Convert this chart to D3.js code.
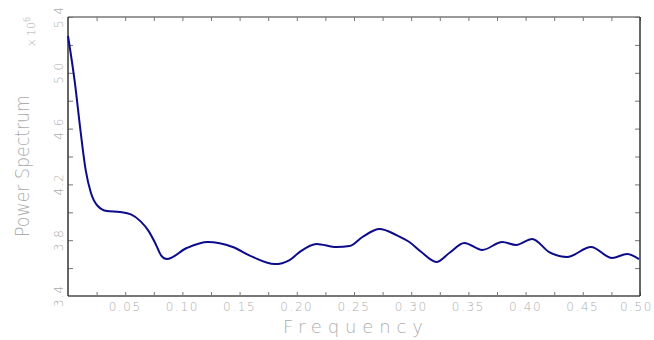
<!DOCTYPE html>
<html>
<head>
<meta charset="utf-8">
<script src="https://cdn.jsdelivr.net/npm/d3@7"></script>
<style>
  body { margin: 0; background: #fff; }
  svg text { font-family: "DejaVu Sans", sans-serif; font-weight: 200; fill: #adadad; }
</style>
</head>
<body>
<div id="chart"></div>
<script>
// values (frequency, power / 1e6)
const freq = [0.0, 0.006, 0.011, 0.0155, 0.020, 0.026, 0.034, 0.0454, 0.055, 0.0635, 0.0705,
  0.0765, 0.0815, 0.0864, 0.1038, 0.1222, 0.144, 0.1614, 0.1806, 0.1937, 0.2024, 0.2173,
  0.2347, 0.2461, 0.2574, 0.2723, 0.2871, 0.2984, 0.3089, 0.322, 0.3333, 0.3464,
  0.3621, 0.3796, 0.3918, 0.4058, 0.4206, 0.4363, 0.4572, 0.4756, 0.4887, 0.4991];
const power = [5.264, 4.93, 4.58, 4.30, 4.14, 4.045, 4.009, 4.002, 3.985, 3.935, 3.865,
  3.775, 3.69, 3.665, 3.744, 3.787, 3.751, 3.680, 3.629, 3.658, 3.715, 3.773,
  3.751, 3.758, 3.823, 3.880, 3.837, 3.787, 3.715, 3.644, 3.708, 3.780,
  3.730, 3.787, 3.766, 3.809, 3.715, 3.680, 3.751, 3.672, 3.701, 3.665];

const xMajor = [0.05, 0.10, 0.15, 0.20, 0.25, 0.30, 0.35, 0.40, 0.45, 0.50];
const xMinor = [0.025, 0.075, 0.125, 0.175, 0.225, 0.275, 0.325, 0.375, 0.425, 0.475];
const yMajor = [3.4, 3.8, 4.2, 4.6, 5.0, 5.4];
const yMinor = [3.6, 4.0, 4.4, 4.8, 5.2];

const width = 654, height = 340;
const margin = { top: 17, right: 14, bottom: 44, left: 68 };
const iw = width - margin.left - margin.right,
  ih = height - margin.top - margin.bottom;

const svg = d3.select("#chart").append("svg")
  .attr("width", width)
  .attr("height", height);

const x = d3.scaleLinear().domain([0, 0.5]).range([0, iw]);
const y = d3.scaleLinear().domain([3.4, 5.4]).range([ih, 0]);

const g = svg.append("g").attr("transform", `translate(${margin.left},${margin.top})`);

// inward ticks on all four sides
function styleAxis(sel) {
  sel.select(".domain").remove();
  sel.selectAll(".tick line").attr("stroke", "#777");
}
g.append("g").attr("transform", `translate(0,${ih})`)
  .call(d3.axisBottom(x).tickValues(xMajor.concat(xMinor)).tickSize(-4).tickFormat(""))
  .call(styleAxis);
g.append("g")
  .call(d3.axisTop(x).tickValues(xMajor.concat(xMinor)).tickSize(-4).tickFormat(""))
  .call(styleAxis);
g.append("g")
  .call(d3.axisLeft(y).tickValues(yMajor.concat(yMinor)).tickSize(-5).tickFormat(""))
  .call(styleAxis);
g.append("g").attr("transform", `translate(${iw},0)`)
  .call(d3.axisRight(y).tickValues(yMajor.concat(yMinor)).tickSize(-5).tickFormat(""))
  .call(styleAxis);

// frame
g.append("line").attr("x1", 0).attr("x2", iw).attr("y1", 0).attr("y2", 0).attr("stroke", "#777").attr("stroke-width", 1.5);
g.append("line").attr("x1", 0).attr("x2", iw).attr("y1", ih).attr("y2", ih).attr("stroke", "#777").attr("stroke-width", 2);
g.append("line").attr("x1", 0).attr("x2", 0).attr("y1", 0).attr("y2", ih).attr("stroke", "#333").attr("stroke-width", 1.5);
g.append("line").attr("x1", iw).attr("x2", iw).attr("y1", 0).attr("y2", ih).attr("stroke", "#333").attr("stroke-width", 1.5);

// tick labels
g.selectAll(".xlab").data(xMajor).join("text")
  .attr("x", d => d === 0.5 ? width - margin.left - 1 : x(d))
  .attr("y", ih + 15)
  .attr("text-anchor", d => d === 0.5 ? "end" : "middle")
  .style("font-size", "12px")
  .style("letter-spacing", "1.6px")
  .text(d => d.toFixed(2));

g.selectAll(".ylab").data(yMajor).join("text")
  .attr("transform", d => `translate(-5,${y(d)}) rotate(-90)`)
  .attr("text-anchor", "middle")
  .style("font-size", "12px")
  .style("letter-spacing", "1px")
  .text(d => d.toFixed(1));

// multiplier
const mult = svg.append("text")
  .attr("transform", "translate(35,46) rotate(-90)")
  .style("font-size", "11px");
mult.append("tspan").text("x 10");
mult.append("tspan").attr("dy", -5).style("font-size", "8px").text("6");

// axis titles
svg.append("text")
  .attr("x", 283)
  .attr("y", 333)
  .attr("textLength", 140)
  .attr("lengthAdjust", "spacing")
  .style("font-size", "18px")
  .text("Frequency");

svg.append("text")
  .attr("transform", "translate(29,237) rotate(-90)")
  .attr("textLength", 142)
  .attr("lengthAdjust", "spacingAndGlyphs")
  .style("font-size", "20px")
  .text("Power Spectrum");

// spectrum line
const pts = freq.map((f, i) => [f, power[i]]);
const line = d3.line()
  .x(d => x(d[0]))
  .y(d => y(d[1]))
  .curve(d3.curveMonotoneX);

g.append("path")
  .datum(pts)
  .attr("fill", "none")
  .attr("stroke", "#0c0c8a")
  .attr("stroke-width", 2)
  .attr("d", line);
</script>
</body>
</html>
